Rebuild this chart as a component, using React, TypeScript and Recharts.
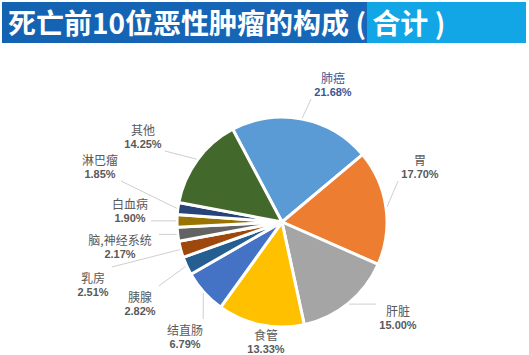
import React from 'react';
import { PieChart, Pie, Cell } from 'recharts';

const TITLE_MAIN = '死亡前10位恶性肿瘤的构成';
const TITLE_TAIL = ' ( 合计 )';

const categories = ['肺癌', '胃', '肝脏', '食管', '结直肠', '胰腺', '乳房', '脑,神经系统', '白血病', '淋巴瘤', '其他'];
const shares = [21.68, 17.7, 15.0, 13.33, 6.79, 2.82, 2.51, 2.17, 1.9, 1.85, 14.25];
const colors = ['#5B9BD5', '#ED7D31', '#A5A5A5', '#FFC000', '#4472C4', '#255E91', '#9E480E', '#636363', '#997300', '#264478', '#43682B'];

// label placement (offset of the name line from the pie centre) — layout only
const labelOffsets: [number, number][] = [
  [51, -145],
  [138, -63],
  [116, 88],
  [-16, 112],
  [-97, 107],
  [-142, 74],
  [-189, 55],
  [-162, 17],
  [-152, -19],
  [-182, -63],
  [-139, -93],
];

const data = categories.map((name, i) => ({ name, value: shares[i] }));

const RAD = Math.PI / 180;

const renderLabel = (p: any) => {
  const { cx, cy, midAngle, outerRadius, index } = p;
  const [dx, dy] = labelOffsets[index];
  const lx = cx + dx;
  const ly = cy + dy;
  const sx = cx + (outerRadius + 1) * Math.cos(-midAngle * RAD);
  const sy = cy + (outerRadius + 1) * Math.sin(-midAngle * RAD);
  const name = categories[index];
  const pct = shares[index].toFixed(2) + '%';
  const nameW = name.length * 12;
  const pctW = pct.length * 6.3;
  const w = Math.max(nameW, pctW);
  const left = lx - w / 2 - 3;
  const right = lx + w / 2 + 3;
  const top = ly - 10;
  const bottom = ly + 22;
  const ex = Math.min(Math.max(sx, left), right);
  const ey = Math.min(Math.max(sy, top), bottom);
  const isLung = index === 0;
  const col = isLung ? '#3A5795' : '#595959';
  return (
    <g key={`lbl-${index}`}>
      <line x1={sx} y1={sy} x2={ex} y2={ey} stroke="#CFCFCF" strokeWidth={1} />
      <text
        x={lx}
        y={ly}
        textAnchor="middle"
        dominantBaseline="central"
        fill={col}
        fontSize={12}
        fontFamily="'Noto Sans CJK SC', sans-serif"
      >
        {name}
      </text>
      <text
        x={lx}
        y={ly + 15}
        textAnchor="middle"
        dominantBaseline="central"
        fill={col}
        fontSize={11}
        fontWeight="bold"
        fontFamily="'Liberation Sans', Arial, sans-serif"
      >
        {pct}
      </text>
    </g>
  );
};

export default function App() {
  return (
    <div
      style={{
        position: 'fixed',
        left: 0,
        top: 0,
        width: 529,
        height: 355,
        background: '#FFFFFF',
        overflow: 'hidden',
      }}
    >
      <div
        style={{
          position: 'absolute',
          left: 2,
          top: 2,
          width: 524,
          height: 41,
          background: 'linear-gradient(to right, #1462B2 0px, #1767B8 365px, #12A6E6 365px, #12A6E6 524px)',
        }}
      />
      <div
        style={{
          position: 'absolute',
          left: 8,
          top: 2,
          height: 41,
          lineHeight: '41px',
          color: '#FFFFFF',
          fontSize: 28,
          fontWeight: 'bold',
          fontFamily: "'Noto Sans CJK SC', sans-serif",
          whiteSpace: 'pre',
        }}
      >
        {TITLE_MAIN + TITLE_TAIL}
      </div>
      <div style={{ position: 'absolute', left: 0, top: 0 }}>
        <PieChart width={529} height={355}>
          <Pie
            data={data}
            dataKey="value"
            nameKey="name"
            cx={277}
            cy={217}
            outerRadius={105}
            startAngle={118}
            endAngle={-242}
            stroke="#FFFFFF"
            strokeWidth={3}
            label={renderLabel}
            labelLine={false}
            isAnimationActive={false}
          >
            {data.map((d, i) => (
              <Cell key={d.name} fill={colors[i]} />
            ))}
          </Pie>
        </PieChart>
      </div>
    </div>
  );
}
